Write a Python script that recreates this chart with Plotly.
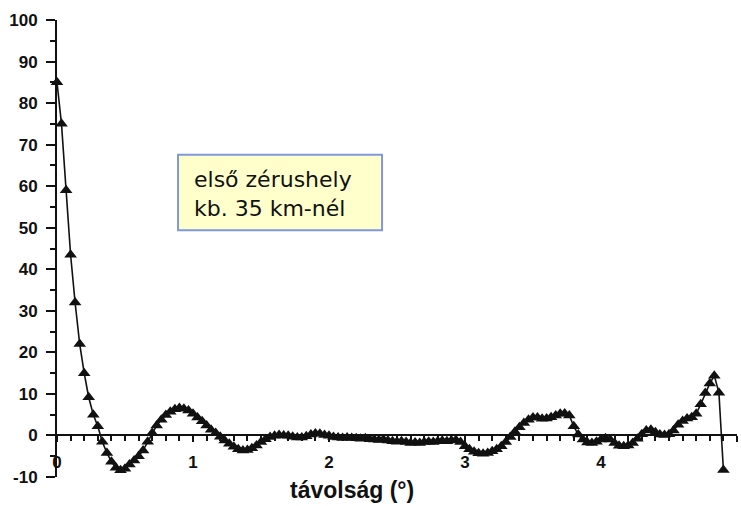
import plotly.graph_objects as go

# distance (degrees)
distance = [
    0.000, 0.033, 0.067, 0.100, 0.133, 0.167, 0.200, 0.233, 0.267, 0.300,
    0.333, 0.367, 0.400, 0.433, 0.467, 0.500, 0.533, 0.567, 0.600, 0.633,
    0.667, 0.700, 0.733, 0.767, 0.800, 0.833, 0.867, 0.900, 0.933, 0.967,
    1.000, 1.033, 1.067, 1.100, 1.133, 1.167, 1.200, 1.233, 1.267, 1.300,
    1.333, 1.367, 1.400, 1.433, 1.467, 1.500, 1.533, 1.567, 1.600, 1.633,
    1.667, 1.700, 1.733, 1.767, 1.800, 1.833, 1.867, 1.900, 1.933, 1.967,
    2.000, 2.033, 2.067, 2.100, 2.133, 2.167, 2.200, 2.233, 2.267, 2.300,
    2.333, 2.367, 2.400, 2.433, 2.467, 2.500, 2.533, 2.567, 2.600, 2.633,
    2.667, 2.700, 2.733, 2.767, 2.800, 2.833, 2.867, 2.900, 2.933, 2.967,
    3.000, 3.033, 3.067, 3.100, 3.133, 3.167, 3.200, 3.233, 3.267, 3.300,
    3.333, 3.367, 3.400, 3.433, 3.467, 3.500, 3.533, 3.567, 3.600, 3.633,
    3.667, 3.700, 3.733, 3.767, 3.800, 3.833, 3.867, 3.900, 3.933, 3.967,
    4.000, 4.033, 4.067, 4.100, 4.133, 4.167, 4.200, 4.233, 4.267, 4.300,
    4.333, 4.367, 4.400, 4.433, 4.467, 4.500, 4.533, 4.567, 4.600, 4.633,
    4.667, 4.700, 4.733, 4.767, 4.800, 4.833, 4.867, 4.900,
]

# correlation values
value = [
    85.0, 75.0, 59.0, 43.5, 32.0, 22.0, 15.0, 9.2, 5.0, 2.2,
    -1.5, -4.2, -6.3, -7.8, -8.4, -8.0, -7.0, -6.0, -5.0, -3.6,
    -1.5, 0.6, 2.4, 3.8, 4.9, 5.7, 6.3, 6.6, 6.4, 6.0,
    5.2, 4.3, 3.4, 2.4, 1.4, 0.6, -0.3, -1.2, -2.0, -2.7,
    -3.3, -3.6, -3.5, -3.1, -2.4, -1.6, -0.9, -0.4, -0.1, 0.1,
    0.0, -0.1, -0.3, -0.5, -0.5, -0.2, 0.2, 0.5, 0.4, 0.1,
    -0.1, -0.4, -0.5, -0.6, -0.5, -0.6, -0.7, -0.8, -0.7, -0.9,
    -1.0, -1.1, -1.0, -1.2, -1.4, -1.5, -1.4, -1.6, -1.8, -1.7,
    -1.8, -1.6, -1.5, -1.6, -1.4, -1.3, -1.4, -1.2, -1.1, -1.6,
    -2.6, -3.3, -3.9, -4.3, -4.4, -4.2, -3.8, -3.3, -2.6, -1.6,
    -0.4, 0.9, 2.0, 3.0, 3.8, 4.3, 4.3, 4.0, 4.1, 4.4,
    4.8, 5.2, 5.3, 4.8, 2.2, 0.2, -1.0, -1.7, -1.8, -1.5,
    -1.0, -0.7, -1.0, -1.8, -2.5, -2.6, -2.4, -1.8, -0.8, 0.3,
    1.2, 1.4, 0.8, 0.2, 0.1, 0.3, 1.2, 2.6, 3.5, 4.1,
    4.4, 5.2, 7.5, 10.2, 12.5, 14.4, 10.3, -8.3,
]

x_tickvals = [0, 1, 2, 3, 4, 5]
y_tickvals = [-10, 0, 10, 20, 30, 40, 50, 60, 70, 80, 90, 100]

note_text = "első zérushely<br>kb. 35 km-nél"
x_title = "távolság (°)"

tick_font = dict(family="Liberation Sans, Arial, sans-serif", size=17,
                 color="#111111", weight="bold")

fig = go.Figure()
fig.add_trace(go.Scatter(
    x=distance, y=value, mode="lines+markers",
    line=dict(color="#111111", width=1.6),
    marker=dict(symbol="triangle-up", size=11, color="#111111"),
    cliponaxis=False, showlegend=False,
))

y_min, y_max = -10, 100
zero_pos = (0 - y_min) / (y_max - y_min)

fig.update_layout(
    width=741, height=506,
    margin=dict(l=57, r=4, t=20, b=29),
    paper_bgcolor="white", plot_bgcolor="white",
    xaxis=dict(
        range=[0, 5], anchor="free", position=zero_pos,
        showline=True, linecolor="#111111", linewidth=2,
        showgrid=False, zeroline=False,
        ticks="outside", ticklen=6, tickwidth=1.5, tickcolor="#111111",
        tickvals=x_tickvals, ticktext=[str(v) for v in x_tickvals],
        tickfont=tick_font, ticklabelstandoff=5,
        minor=dict(ticks="outside", ticklen=5, tickwidth=1.5,
                   tickcolor="#111111", dtick=0.1, showgrid=False),
    ),
    yaxis=dict(
        range=[y_min, y_max],
        showline=True, linecolor="#111111", linewidth=2,
        showgrid=False, zeroline=False,
        ticks="outside", ticklen=9, tickwidth=1.5, tickcolor="#111111",
        tickvals=y_tickvals, ticktext=[str(v) for v in y_tickvals],
        tickfont=tick_font, ticklabelstandoff=5,
        minor=dict(ticks="outside", ticklen=5, tickwidth=1.5,
                   tickcolor="#111111", dtick=5, showgrid=False),
    ),
)

fig.add_shape(type="rect", xref="paper", yref="paper",
              x0=0.178, x1=0.478, y0=0.540, y1=0.705,
              fillcolor="#FFFFCC", line=dict(color="#7F98E0", width=2),
              layer="above")
fig.add_annotation(xref="paper", yref="paper", x=0.1985, y=0.619,
                   xanchor="left", yanchor="middle", align="left",
                   text=note_text, showarrow=False,
                   font=dict(family="DejaVu Sans, sans-serif", size=22,
                             color="#111111"))
fig.add_annotation(xref="paper", yref="paper", x=0.434, y=-0.062,
                   xanchor="center", yanchor="bottom",
                   text=x_title, showarrow=False,
                   font=dict(family="Liberation Sans, Arial, sans-serif",
                             size=23, color="#111111", weight="bold"))

fig.write_html("out.html")
